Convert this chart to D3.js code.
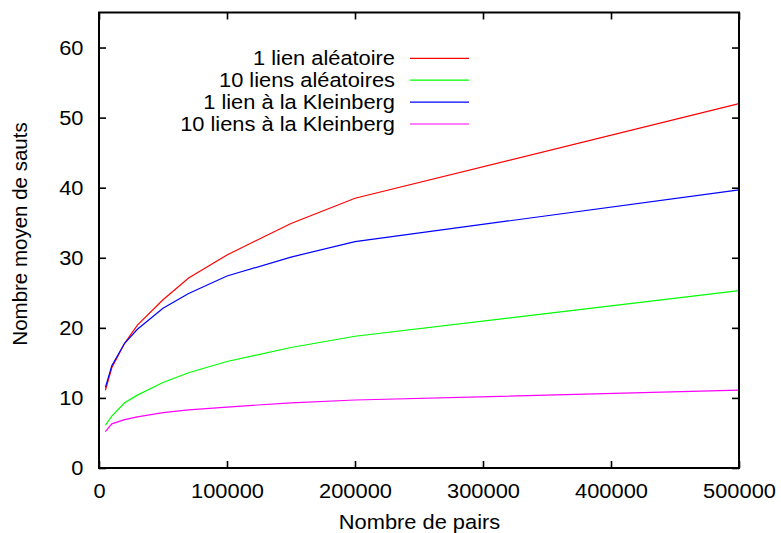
<!DOCTYPE html>
<html>
<head>
<meta charset="utf-8">
<script src="https://cdn.jsdelivr.net/npm/d3@7"></script>
<style>
  html, body { margin: 0; padding: 0; background: #fff; }
  svg { display: block; }
  text { font-family: "Liberation Sans", Arial, Helvetica, sans-serif; fill: #000; }
</style>
</head>
<body>
<svg id="chart" width="781" height="533"></svg>
<script>
// Number of node pairs (x) for each measurement
const pairs = [5000, 10000, 20000, 30000, 50000, 70000, 100000, 150000, 200000, 500000];

// Average hop count per routing configuration
const seriesNames = ["1 lien aléatoire", "10 liens aléatoires", "1 lien à la Kleinberg", "10 liens à la Kleinberg"];
const unLienAleatoire    = [11.1, 14.3, 17.8, 20.4, 24.0, 27.1, 30.4, 34.9, 38.5, 52.0];
const dixLiensAleatoires = [6.1, 7.4, 9.3, 10.4, 12.2, 13.6, 15.2, 17.2, 18.8, 25.3];
const unLienKleinberg    = [11.5, 14.6, 17.8, 19.8, 22.8, 24.9, 27.4, 30.1, 32.3, 39.7];
const dixLiensKleinberg  = [5.2, 6.3, 6.9, 7.3, 7.9, 8.3, 8.7, 9.3, 9.7, 11.1];
const seriesColors = ["#ff0000", "#00ff00", "#0000ff", "#ff00ff"];

// Axis ticks
const xTicks = [0, 100000, 200000, 300000, 400000, 500000];
const yTicks = [0, 10, 20, 30, 40, 50, 60];

const seriesValues = [unLienAleatoire, dixLiensAleatoires, unLienKleinberg, dixLiensKleinberg];

const svg = d3.select("#chart");
const plotLeft = 99, plotRight = 739, plotTop = 12.5, plotBottom = 468;
const fontSize = "20.5px";
const widen = 1.065; // slightly wider lettering for horizontal labels

const x = d3.scaleLinear().domain([0, 500000]).range([plotLeft, plotRight]);
const y = d3.scaleLinear().domain([0, 65]).range([plotBottom, plotTop]);

// Series lines
const line = d3.line()
  .x(d => x(d[0]))
  .y(d => y(d[1]));

seriesValues.forEach((vals, i) => {
  svg.append("path")
    .datum(pairs.map((p, j) => [p, vals[j]]))
    .attr("fill", "none")
    .attr("stroke", seriesColors[i])
    .attr("stroke-width", 1.2)
    .attr("d", line);
});

// Axes with inward ticks, mirrored on the opposite sides
const tickLen = 7;
const axisBottom = d3.axisBottom(x).tickValues(xTicks).tickSizeInner(-tickLen).tickSizeOuter(0).tickPadding(15.5).tickFormat(d3.format("d"));
const axisTop = d3.axisTop(x).tickValues(xTicks).tickSizeInner(-tickLen).tickSizeOuter(0).tickFormat("");
const axisLeft = d3.axisLeft(y).tickValues(yTicks).tickSizeInner(-tickLen).tickSizeOuter(0).tickPadding(15.5).tickFormat(d3.format("d"));
const axisRight = d3.axisRight(y).tickValues(yTicks).tickSizeInner(-tickLen).tickSizeOuter(0).tickFormat("");

function styleAxis(g) {
  g.select(".domain").remove();
  g.selectAll(".tick line").attr("stroke", "#000").attr("stroke-width", 1.6);
  g.selectAll(".tick text")
    .style("font-family", "'Liberation Sans', Arial, sans-serif")
    .style("font-size", fontSize)
    .attr("fill", "#000")
    .classed("wide", true);
}

svg.append("g").attr("transform", `translate(0,${plotBottom})`).call(axisBottom).call(styleAxis);
svg.append("g").attr("transform", `translate(0,${plotTop})`).call(axisTop).call(styleAxis);
svg.append("g").attr("transform", `translate(${plotLeft},0)`).call(axisLeft).call(styleAxis);
svg.append("g").attr("transform", `translate(${plotRight},0)`).call(axisRight).call(styleAxis);

// Frame
svg.append("rect")
  .attr("x", plotLeft).attr("y", plotTop)
  .attr("width", plotRight - plotLeft).attr("height", plotBottom - plotTop)
  .attr("fill", "none").attr("stroke", "#000").attr("stroke-width", 2);

// Axis titles
svg.append("text")
  .attr("class", "wide")
  .attr("x", 419.5).attr("y", 528.5)
  .attr("text-anchor", "middle")
  .style("font-size", fontSize)
  .text("Nombre de pairs");

svg.append("text")
  .attr("transform", "translate(27,234) rotate(-90)")
  .attr("text-anchor", "middle")
  .style("font-size", fontSize)
  .text("Nombre moyen de sauts");

// Legend
const legend = svg.append("g");
seriesNames.forEach((name, i) => {
  const ly = 58.3 + i * 21.9;
  legend.append("text")
    .attr("class", "wide")
    .attr("x", 395).attr("y", ly)
    .attr("dy", "0.35em")
    .attr("text-anchor", "end")
    .style("font-size", fontSize)
    .text(name);
  legend.append("line")
    .attr("x1", 410).attr("x2", 469)
    .attr("y1", ly).attr("y2", ly)
    .attr("stroke", seriesColors[i])
    .attr("stroke-width", 1.2);
});

// Widen horizontal labels
svg.selectAll("text.wide").each(function () {
  const len = this.getComputedTextLength();
  if (len > 0) {
    d3.select(this)
      .attr("textLength", len * widen)
      .attr("lengthAdjust", "spacingAndGlyphs");
  }
});
</script>
</body>
</html>
